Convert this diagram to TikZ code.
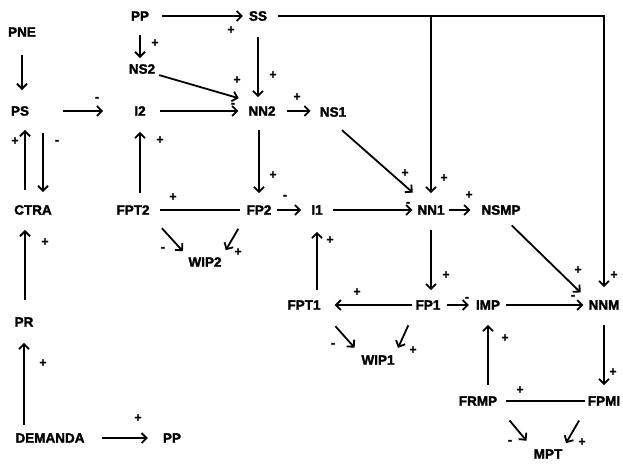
\documentclass[tikz,border=0pt]{standalone}
\usepackage{fontspec}
\setmainfont{Liberation Sans}[BoldFeatures={FakeBold=2}]
\usetikzlibrary{arrows.meta}
\begin{document}
\begin{tikzpicture}[x=1pt,y=-1pt,
  lbl/.style={inner sep=0pt, font=\bfseries\fontsize{13.5}{16}\selectfont},
  sg/.style={inner sep=0pt, font=\bfseries\fontsize{12}{12}\selectfont},
  con/.style={line width=1.8pt},
  arr/.style={con, -{Straight Barb[length=5pt,width=10pt,line width=1.8pt]}}]
\useasboundingbox (0,0) rectangle (623,463);
% nodes
\node[lbl] (PNE) at (22,32) {PNE};
\node[lbl] (PS) at (20,111) {PS};
\node[lbl] (PPt) at (140,16) {PP};
\node[lbl] (SS) at (258,16) {SS};
\node[lbl] (NS2) at (142,69) {NS2};
\node[lbl] (I2) at (140,111) {I2};
\node[lbl] (NN2) at (262,111) {NN2};
\node[lbl] (NS1) at (333,112) {NS1};
\node[lbl] (CTRA) at (33,210) {CTRA};
\node[lbl] (FPT2) at (133,210) {FPT2};
\node[lbl] (FP2) at (259,210) {FP2};
\node[lbl] (I1) at (317,210) {I1};
\node[lbl] (NN1) at (431,210) {NN1};
\node[lbl] (NSMP) at (501,210) {NSMP};
\node[lbl] (WIP2) at (205,262) {WIP2};
\node[lbl] (FPT1) at (304,305) {FPT1};
\node[lbl] (FP1) at (428,305) {FP1};
\node[lbl] (IMP) at (488,305) {IMP};
\node[lbl] (NNM) at (604,305) {NNM};
\node[lbl] (WIP1) at (378,360) {WIP1};
\node[lbl] (PR) at (24,322) {PR};
\node[lbl] (FRMP) at (478,401) {FRMP};
\node[lbl] (FPMI) at (604,401) {FPMI};
\node[lbl] (MPT) at (548,454) {MPT};
\node[lbl] (DEM) at (50,438) {DEMANDA};
\node[lbl] (PPb) at (172,438) {PP};
% connectors
\draw[arr, shorten <=18pt, shorten >=16pt] (PNE.south) -- (PNE.south |- PS.north);
\draw[arr, shorten <=34pt, shorten >=31pt] (PS) -- (I2);
\draw[arr, shorten <=13pt, shorten >=6pt] (PPt) -- (SS);
\draw[arr, shorten <=14pt, shorten >=6pt] (PPt.south) -- (PPt.south |- NS2.north);
\draw[arr, shorten <=4pt, shorten >=10pt] (NS2.south east) -- ([yshift=10pt]NN2.west);
\draw[arr, shorten <=16pt, shorten >=9pt] (SS.south) -- (SS.south |- NN2.north);
\draw[arr, shorten <=14pt, shorten >=10pt] (I2) -- (NN2);
\draw[arr, shorten <=11pt, shorten >=9pt] (NN2.east) -- (NN2.east -| NS1.west);
\draw[arr, shorten <=11pt, shorten >=13pt] (SS.east) -- (NNM.north |- SS.east) -- (NNM.north);
\draw[arr, shorten >=12pt] (NN1.north |- SS.east) -- (NN1.north);
\draw[arr, shorten <=20pt, shorten >=19pt] ([xshift=-6pt]NS1.south) -- ([xshift=-4pt]NN1.north);
\draw[arr, shorten <=14pt, shorten >=12pt] (FP2.north |- NN2.south) -- (FP2.north);
\draw[arr, shorten <=12pt, shorten >=16pt] (I2.south |- FPT2.north) -- (I2.south);
\draw[con, shorten <=10pt, shorten >=6pt] (FPT2) -- (FP2);
\draw[arr, shorten <=18pt, shorten >=8pt] (FPT2.south east) -- (WIP2.north west);
\draw[arr, shorten <=16pt, shorten >=8pt] (FP2.south west) -- (WIP2.north east);
\draw[arr, shorten <=5pt, shorten >=10pt] (FP2) -- (I1);
\draw[arr, shorten <=10pt, shorten >=5pt] (I1) -- (NN1);
\draw[arr, shorten <=10pt, shorten >=17pt] (I1.south |- FPT1.north) -- (I1.south);
\draw[arr, shorten <=4pt, shorten >=11pt] (NN1) -- (NSMP);
\draw[arr, shorten <=15pt, shorten >=11pt] (NSMP.south) -- (NNM.north west);
\draw[arr, shorten <=15pt, shorten >=10pt] (NN1.south) -- (NN1.south |- FP1.north);
\draw[arr, shorten <=3pt, shorten >=14pt] (FP1) -- (FPT1);
\draw[arr, shorten <=6pt, shorten >=7pt] (FP1) -- (IMP);
\draw[arr, shorten <=6pt, shorten >=5pt] (IMP) -- (NNM);
\draw[arr, shorten <=22pt, shorten >=10pt] (FPT1.south east) -- (WIP1.north west);
\draw[arr, shorten <=17pt, shorten >=8pt] (FP1.south west) -- (WIP1.north east);
\draw[arr, shorten <=11pt, shorten >=15pt] (IMP.south |- FRMP.north) -- (IMP.south);
\draw[arr, shorten <=15pt, shorten >=11pt] (NNM.south) -- (NNM.south |- FPMI.north);
\draw[con, shorten <=9pt, shorten >=3pt] (FRMP) -- (FPMI);
\draw[arr, shorten <=19pt, shorten >=11pt] (FRMP.south east) -- (MPT.north west);
\draw[arr, shorten <=17pt, shorten >=7pt] (FPMI.south west) -- (MPT.north east);
\draw[arr, shorten <=15pt, shorten >=14pt] ([xshift=-8pt]CTRA.north) -- ([xshift=-8pt]CTRA.north |- PS.south);
\draw[arr, shorten <=17pt, shorten >=13pt] ([xshift=10pt]CTRA.north |- PS.south) -- ([xshift=10pt]CTRA.north);
\draw[arr, shorten <=17pt, shorten >=15pt] ([xshift=-8pt]CTRA.south |- PR.north) -- ([xshift=-8pt]CTRA.south);
\draw[arr, shorten <=8pt, shorten >=16pt] (PR.south |- DEM.north) -- (PR.south);
\draw[arr, shorten <=17pt, shorten >=15pt] (DEM) -- (PPb);
% signs
\node[sg] (s1) at (97,99) {-};
\node[sg] (s2) at (231,30) {+};
\node[sg] (s3) at (155,43) {+};
\node[sg] (s4) at (237,80) {+};
\node[sg] (s5) at (273,75) {+};
\node[sg] (s6) at (233,105) {-};
\node[sg] (s7) at (297,97) {+};
\node[sg] (s8) at (444,178) {+};
\node[sg] (s9) at (614,275) {+};
\node[sg] (s10) at (405,173) {+};
\node[sg] (s11) at (273,175) {+};
\node[sg] (s12) at (160,140) {+};
\node[sg] (s13) at (173,197) {+};
\node[sg] (s14) at (163,249) {-};
\node[sg] (s15) at (238,252) {+};
\node[sg] (s16) at (285,197) {-};
\node[sg] (s17) at (408,204) {-};
\node[sg] (s18) at (330,240) {+};
\node[sg] (s19) at (469,195) {+};
\node[sg] (s20) at (578,270) {+};
\node[sg] (s21) at (446,275) {+};
\node[sg] (s22) at (357,292) {+};
\node[sg] (s23) at (467,299) {-};
\node[sg] (s24) at (573,297) {-};
\node[sg] (s25) at (333,345) {-};
\node[sg] (s26) at (413,350) {+};
\node[sg] (s27) at (505,338) {+};
\node[sg] (s28) at (613,372) {+};
\node[sg] (s29) at (520,390) {+};
\node[sg] (s30) at (510,442) {-};
\node[sg] (s31) at (582,442) {+};
\node[sg] (s32) at (15,141) {+};
\node[sg] (s33) at (57,142) {-};
\node[sg] (s34) at (45,242) {+};
\node[sg] (s35) at (43,363) {+};
\node[sg] (s36) at (138,418) {+};
\end{tikzpicture}
\end{document}
